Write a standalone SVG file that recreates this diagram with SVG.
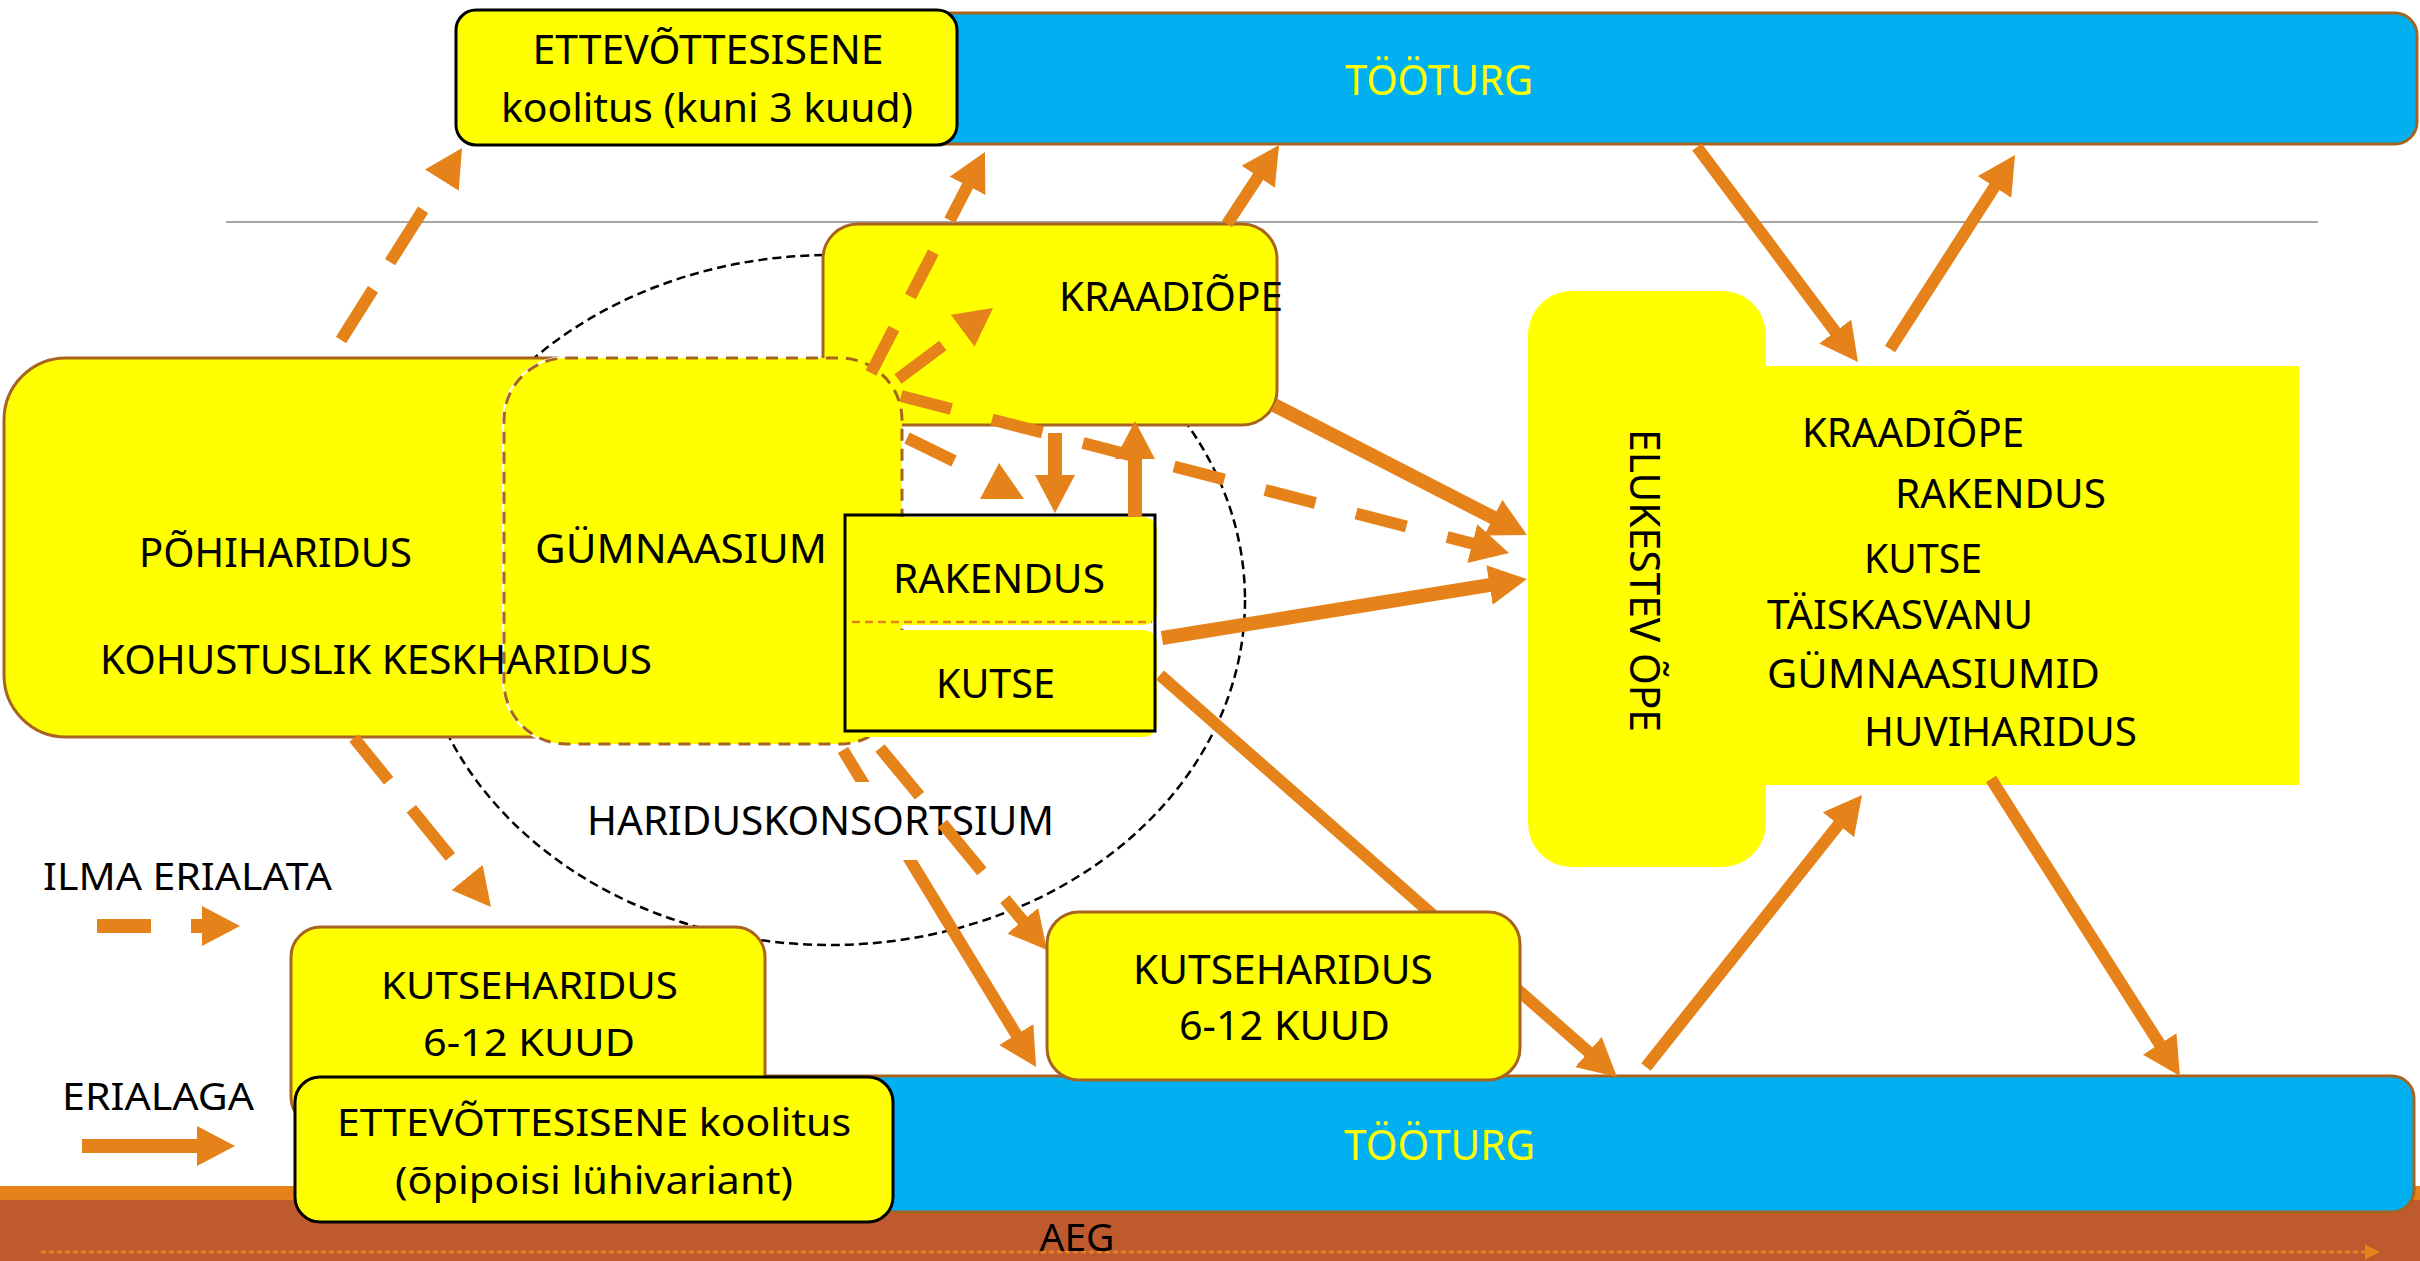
<svg xmlns="http://www.w3.org/2000/svg" width="2420" height="1261" viewBox="0 0 2420 1261">
<style>
.t{font-family:"Noto Sans","Liberation Sans",sans-serif;font-size:40px;fill:#000;}
.s38{font-size:38px;}
.yt{fill:#FFFF00;font-size:41px;}
.box{fill:#FFFF00;stroke:#A8641E;stroke-width:3;}
.boxk{fill:#FFFF00;stroke:#000;stroke-width:3;}
.bar{fill:#00B0F0;stroke:#A8641E;stroke-width:3;}
.c{fill:none;stroke:#E5821A;stroke-width:12;marker-end:url(#ah);}
.w{stroke-width:14;}
.dash{stroke-dasharray:52 42;}
</style>
<defs>
<marker id="ah" markerUnits="userSpaceOnUse" markerWidth="38" markerHeight="40" refX="1" refY="20" orient="auto" viewBox="0 0 38 40">
<path d="M0,0 L38,20 L0,40 Z" fill="#E5821A"/>
</marker>
<marker id="ahs" markerUnits="userSpaceOnUse" markerWidth="15" markerHeight="15" refX="0" refY="7.5" orient="auto" viewBox="0 0 15 15">
<path d="M0,0 L15,7.5 L0,15 Z" fill="#E5821A"/>
</marker>
<mask id="mGym" maskUnits="userSpaceOnUse" x="0" y="0" width="2420" height="1261">
<rect x="0" y="0" width="2420" height="1261" fill="#fff"/>
<rect x="502" y="356" width="402" height="390" rx="64" fill="#000"/>
</mask>
<clipPath id="clipTxt" clipPathUnits="userSpaceOnUse">
<rect x="0" y="0" width="2420" height="782"/>
<rect x="0" y="860" width="2420" height="401"/>
</clipPath>
</defs>
<rect x="0" y="0" width="2420" height="1261" fill="#fff"/>
<line x1="226" y1="222" x2="2318" y2="222" stroke="#A6A6A6" stroke-width="2"/>
<g id="aeg">
<rect x="0" y="1186" width="2420" height="15" fill="#E5821A"/>
<rect x="0" y="1200" width="2420" height="61" fill="#BF5A2E"/>
<line x1="41" y1="1252" x2="2365" y2="1252" stroke="#E5821A" stroke-width="3" stroke-dasharray="5 3" marker-end="url(#ahs)"/>
<text class="t s38" x="1077" y="1251" text-anchor="middle" textLength="75" lengthAdjust="spacingAndGlyphs">AEG</text>
</g>
<g id="konsortsium">
<ellipse cx="830" cy="600" rx="415" ry="345" fill="none" stroke="#000" stroke-width="2.5" stroke-dasharray="9 5"/>
<text class="t" x="820.5" y="835" text-anchor="middle" textLength="467" lengthAdjust="spacingAndGlyphs">HARIDUSKONSORTSIUM</text>
</g>
<g id="tooturg-top">
<rect class="bar" x="900" y="13" width="1517" height="131" rx="22"/>
<text class="t yt" x="1439" y="95" text-anchor="middle" textLength="188" lengthAdjust="spacingAndGlyphs">TÖÖTURG</text>
</g>
<g id="ettevotte-top">
<rect class="boxk" x="456" y="10" width="501" height="135" rx="20"/>
<text class="t" x="708" y="64" text-anchor="middle" textLength="351" lengthAdjust="spacingAndGlyphs">ETTEVÕTTESISENE</text>
<text class="t" x="707" y="122" text-anchor="middle" textLength="412" lengthAdjust="spacingAndGlyphs">koolitus (kuni 3 kuud)</text>
</g>
<g id="kraadiope">
<rect class="box" x="823" y="224" width="454" height="201" rx="35"/>
<text class="t" x="1171" y="311" text-anchor="middle" textLength="224" lengthAdjust="spacingAndGlyphs">KRAADIÕPE</text>
</g>
<g id="gymnaasium">
<rect class="box" x="504" y="358" width="398" height="386" rx="62" stroke-dasharray="12 8"/>
<text class="t" x="681" y="563" text-anchor="middle" textLength="292" lengthAdjust="spacingAndGlyphs">GÜMNAASIUM</text>
</g>
<g id="pohiharidus">
<rect class="box" x="4" y="358" width="846" height="379" rx="62" mask="url(#mGym)"/>
<text class="t" x="275.5" y="567" text-anchor="middle" textLength="273" lengthAdjust="spacingAndGlyphs">PÕHIHARIDUS</text>
<text class="t" x="376" y="674" text-anchor="middle" textLength="552" lengthAdjust="spacingAndGlyphs">KOHUSTUSLIK KESKHARIDUS</text>
</g>
<g id="rakendus-kutse">
<rect x="846" y="517" width="311" height="108" rx="14" fill="#FFFF00"/>
<rect x="846" y="630" width="311" height="107" rx="14" fill="#FFFF00"/>
<rect x="845" y="515" width="310" height="216" fill="none" stroke="#000" stroke-width="3"/>
<line x1="852" y1="622" x2="1152" y2="622" stroke="#E5821A" stroke-width="2.5" stroke-dasharray="8 5"/>
<text class="t" x="999" y="593" text-anchor="middle" textLength="212" lengthAdjust="spacingAndGlyphs">RAKENDUS</text>
<text class="t" x="995.5" y="698" text-anchor="middle" textLength="119" lengthAdjust="spacingAndGlyphs">KUTSE</text>
</g>
<g id="elukestev">
<rect x="1528" y="291" width="238" height="576" rx="44" fill="#FFFF00"/>
<rect x="1760" y="366" width="539" height="419" fill="#FFFF00"/>
<text class="t" font-size="42" transform="translate(1630,580.5) rotate(90)" x="0" y="0" text-anchor="middle" textLength="303" lengthAdjust="spacingAndGlyphs" style="font-size:42px">ELUKESTEV ÕPE</text>
<text class="t" x="1802" y="447" textLength="222" lengthAdjust="spacingAndGlyphs">KRAADIÕPE</text>
<text class="t" x="1895" y="508" textLength="211" lengthAdjust="spacingAndGlyphs">RAKENDUS</text>
<text class="t" x="1864" y="573" textLength="118" lengthAdjust="spacingAndGlyphs">KUTSE</text>
<text class="t" x="1767" y="629" textLength="266" lengthAdjust="spacingAndGlyphs">TÄISKASVANU</text>
<text class="t" x="1767" y="688" textLength="333" lengthAdjust="spacingAndGlyphs">GÜMNAASIUMID</text>
<text class="t" x="1864" y="746" textLength="273" lengthAdjust="spacingAndGlyphs">HUVIHARIDUS</text>
</g>
<g id="tooturg-bottom">
<rect class="bar" x="700" y="1076" width="1714" height="136" rx="22"/>
<text class="t yt" x="1439.5" y="1160" text-anchor="middle" textLength="191" lengthAdjust="spacingAndGlyphs">TÖÖTURG</text>
</g>
<g id="kutseharidus-left">
<rect class="box" x="291" y="927" width="474" height="200" rx="30"/>
<text class="t s38" x="529.5" y="999" text-anchor="middle" textLength="297" lengthAdjust="spacingAndGlyphs">KUTSEHARIDUS</text>
<text class="t s38" x="529" y="1056" text-anchor="middle" textLength="212" lengthAdjust="spacingAndGlyphs">6-12 KUUD</text>
</g>
<g id="ettevotte-bottom">
<rect class="boxk" x="295" y="1077" width="598" height="145" rx="25"/>
<text class="t s38" x="594" y="1136" text-anchor="middle" textLength="514" lengthAdjust="spacingAndGlyphs">ETTEVÕTTESISENE koolitus</text>
<text class="t s38" x="594" y="1194" text-anchor="middle" textLength="398" lengthAdjust="spacingAndGlyphs">(õpipoisi lühivariant)</text>
</g>
<g id="legend">
<text class="t s38" x="43" y="890" textLength="289" lengthAdjust="spacingAndGlyphs">ILMA ERIALATA</text>
<line class="c w" x1="97" y1="926" x2="203" y2="926" stroke-dasharray="54 40"/>
<text class="t s38" x="62" y="1110" textLength="192" lengthAdjust="spacingAndGlyphs">ERIALAGA</text>
<line class="c w" x1="82" y1="1146" x2="198" y2="1146"/>
</g>
<g id="connectors">
<path class="c" d="M1227,224 L1258.7,175.9"/>
<path class="c" d="M1697,147 L1835.8,332.4"/>
<path class="c" d="M1890,349 L1995,186.1"/>
<path class="c w" d="M1274,405 L1494.1,518.1"/>
<path class="c w" d="M1162,638 L1490.5,584.9"/>
<path class="c" d="M1160,675 L1589.2,1052.6"/>
<path class="c" d="M1646,1067 L1839,824"/>
<path class="c" d="M1991,779 L2160.1,1044.8"/>
<path class="c w" d="M1055,433 L1055,476"/>
<path class="c w" d="M1135,517 L1135,458"/>
<path class="c" d="M843,750 L1016.8,1035.4" clip-path="url(#clipTxt)"/>
<path class="c" d="M341,340 L442.3,179.3" stroke-dasharray="60 32 62 40"/>
<path class="c" d="M871,373 L968,184.9" stroke-dasharray="50 36"/>
<path class="c" d="M898,379 L963.4,330.2" stroke-dasharray="56 40"/>
<path class="c dash" d="M901,396 L1473.2,543.8"/>
<path d="M907,438 L954,461" fill="none" stroke="#E5821A" stroke-width="12"/>
<polygon points="980,499 1024,499 999,463" fill="#E5821A"/>
<path class="c" d="M354,738 L467.7,878.3" stroke-dasharray="55 36 62 40"/>
<path class="c" d="M880,748 L1023.4,921.5" stroke-dasharray="62 36"/>
</g>
<g id="kutseharidus-right">
<rect class="box" x="1047" y="912" width="473" height="168" rx="32"/>
<text class="t" x="1283" y="984" text-anchor="middle" textLength="300" lengthAdjust="spacingAndGlyphs">KUTSEHARIDUS</text>
<text class="t" x="1284.5" y="1040" text-anchor="middle" textLength="211" lengthAdjust="spacingAndGlyphs">6-12 KUUD</text>
</g>
</svg>
